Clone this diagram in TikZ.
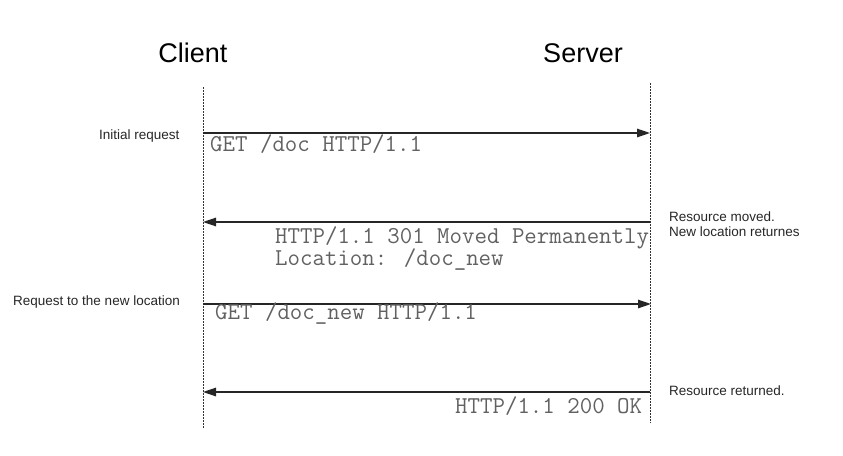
\documentclass[tikz,border=0pt]{standalone}
\usepackage{fontspec}
\setmainfont{Liberation Sans}
\usetikzlibrary{positioning,arrows.meta}

\begin{document}
\begin{tikzpicture}[x=1pt,y=-1pt,
    actor/.style = {font=\fontsize{27}{30}\selectfont, anchor=base, inner sep=0pt},
    life/.style = {draw=black!80, line width=0.8pt, dash pattern=on 1.5pt off 1.5pt},
    msg/.style = {draw=black!85, line width=1.3pt, -{Triangle[length=13pt,width=8.5pt]}},
    code/.style = {font=\ttfamily\fontsize{24.2}{26}\selectfont, text=black!62, inner sep=0pt, anchor=base west},
    note/.style = {font=\fontsize{13.5}{15}\selectfont, text=black!85, inner sep=0pt, anchor=west, align=left}]
    \useasboundingbox (0,0) rectangle (843,455);

    \node[actor](client) at (193,62) {Client};
    \node[actor](server) at (583,62) {Server};

    % lifelines
    \coordinate (ctop) at (203,87);  \coordinate (cbot) at (203,429);
    \coordinate (stop) at (650,83);  \coordinate (sbot) at (650,423);
    \draw[life] (ctop) -- (cbot);
    \draw[life] (stop) -- (sbot);

    % messages
    \coordinate (c1) at (203,133); \coordinate (s1) at (650,133);
    \coordinate (c2) at (203,222); \coordinate (s2) at (650,222);
    \coordinate (c3) at (203,304); \coordinate (s3) at (651,304);
    \coordinate (c4) at (203,392); \coordinate (s4) at (650,392);
    \draw[msg] (c1) -- (s1);
    \draw[msg] (s2) -- (c2);
    \draw[msg] (c3) -- (s3);
    \draw[msg] (s4) -- (c4);

    \node[code](get1) at (210,151) {GET /doc HTTP/1.1};
    \node[code](moved) at (275,243) {HTTP/1.1 301 Moved Permanently};
    \node[code](loc) at ([yshift=-22pt]moved.base west) {Location: /doc\_new};
    \node[code](get2) at (215,319) {GET /doc\_new HTTP/1.1};
    \node[code](ok) at (455,413) {HTTP/1.1 200 OK};

    % side notes
    \node[note](initial) at (99,136) {Initial request};
    \node[note](newreq) at (13,302) {Request to the new location};
    \node[note](resmoved) at (669,224.5) {Resource moved.\\New location returnes};
    \node[note](resret) at (669,391) {Resource returned.};
\end{tikzpicture}
\end{document}
